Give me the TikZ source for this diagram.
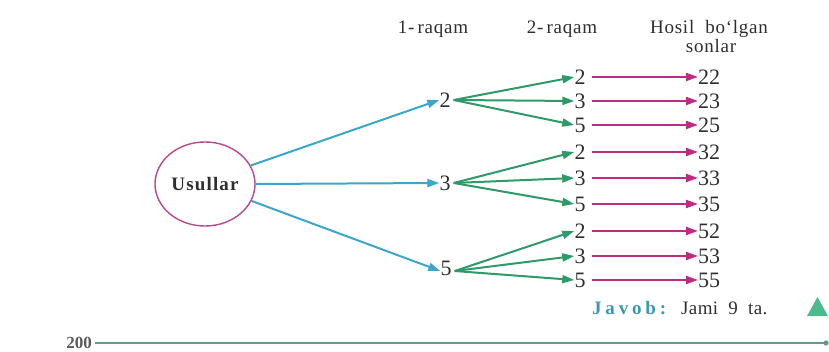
\documentclass[tikz,border=0pt]{standalone}
\usepackage{fontspec}
\setmainfont{Liberation Serif}
\usetikzlibrary{arrows.meta,shapes.geometric}
\definecolor{bluearr}{HTML}{3BA6CC}
\definecolor{greenarr}{HTML}{2E9A6A}
\definecolor{magarr}{HTML}{BC2C82}
\definecolor{ovalc}{HTML}{B8488E}
\definecolor{javobc}{HTML}{3B98B2}
\definecolor{trigc}{HTML}{4DBA8C}
\definecolor{linec}{HTML}{5E9E8A}
\definecolor{txt}{HTML}{2E2E2E}
\definecolor{pagenum}{HTML}{5A5A5A}
\tikzset{
  num/.style={inner sep=1pt, font=\fontsize{22}{22}\selectfont, text=txt},
  head/.style={inner sep=0pt, font=\fontsize{19}{19}\selectfont\addfontfeature{LetterSpace=4}, text=txt, align=center},
  tip/.style={-{Triangle[length=12pt,width=8pt]}},
  blue/.style={tip, draw=bluearr, fill=bluearr, line width=2pt},
  green/.style={tip, draw=greenarr, fill=greenarr, line width=2pt},
  mag/.style={tip, draw=magarr, fill=magarr, line width=2pt}
}
\begin{document}
\begin{tikzpicture}[x=1pt,y=-1pt]
\useasboundingbox (0,0) rectangle (829,352);

% column headings
\node[head, anchor=base] (h1) at (433,34) {1-\,raqam};
\node[head, anchor=base] (h2) at (562,34) {2-\,raqam};
\node[head, anchor=base] (h3) at (709,34) {Hosil\ \ bo‘lgan};
\node[head, anchor=base] (h4) at (711,53) {sonlar};

% root oval
\node[draw=ovalc, line width=1.4pt, ellipse, minimum width=100pt, minimum height=84pt, inner sep=0pt,
      font=\fontsize{19}{19}\selectfont\bfseries\addfontfeature{LetterSpace=6}, text=txt] (root) at (205,184) {Usullar};

% first digit
\node[num] (a) at (445,100) {2};
\node[num] (b) at (445,183) {3};
\node[num] (c) at (446,268) {5};

\draw[blue] (root.22) -- ([xshift=1pt]a.west);
\draw[blue] (root.east) -- ([xshift=1pt]b.west);
\draw[blue] (root.-20) -- ([xshift=1pt,yshift=-3pt]c.west);

% second digit and resulting numbers
\foreach \i/\y/\d/\v in {1/77/2/22, 2/101/3/23, 3/125/5/25, 4/152/2/32, 5/178/3/33, 6/204/5/35, 7/231/2/52, 8/256/3/53, 9/280/5/55}{
  \node[num] (s\i) at (580,\y) {\d};
  \node[num, anchor=west] (t\i) at (697,\y) {\v};
  \draw[mag] ([xshift=5pt]s\i.east) -- ([xshift=1pt]t\i.west);
}
\foreach \i in {1,2,3}{ \draw[green] ([xshift=2pt]a.east) -- ([xshift=1pt]s\i.west); }
\foreach \i in {4,5,6}{ \draw[green] ([xshift=2pt]b.east) -- ([xshift=1pt]s\i.west); }
\foreach \i in {7,8,9}{ \draw[green] ([xshift=2pt,yshift=-3pt]c.east) -- ([xshift=1pt]s\i.west); }

% answer line
\node[inner sep=0pt, anchor=base west, font=\fontsize{19}{19}\selectfont\bfseries\addfontfeature{LetterSpace=20}, text=javobc] (jv) at (592,315) {Javob:};
\node[inner sep=0pt, anchor=base west, font=\fontsize{19}{19}\selectfont\addfontfeature{LetterSpace=2}, text=txt] (jm) at (681,315) {Jami\ \ 9\ \ ta.};
\fill[trigc] (807,316) -- (817.5,297) -- (828,316) -- cycle;

% bottom rule with page number
\node[inner sep=0pt, anchor=east, font=\fontsize{17}{17}\selectfont\bfseries, text=pagenum] (n200) at (92,343) {200};
\draw[linec, line width=2.2pt] ([xshift=3pt]n200.east) -- (826,343);
\fill[linec] (826,343) circle (2.6pt);
\end{tikzpicture}
\end{document}
